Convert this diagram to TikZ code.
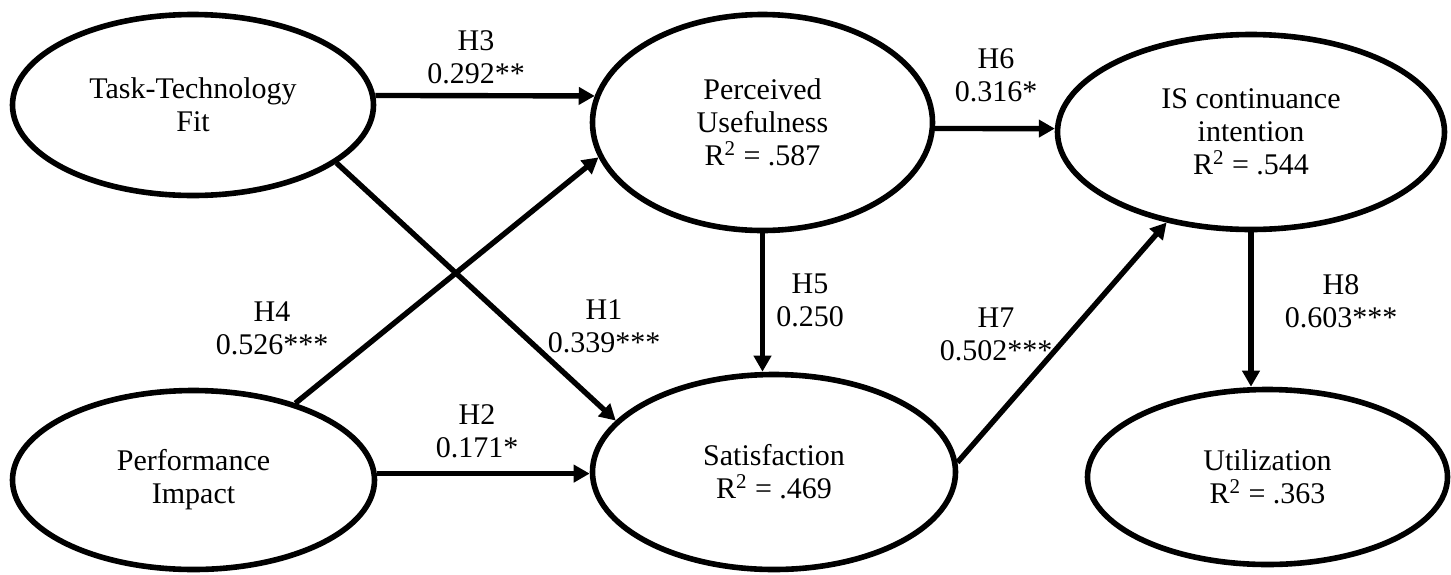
\documentclass[tikz,border=0pt]{standalone}
\usepackage{fontspec}
\setmainfont{Liberation Serif}
\usetikzlibrary{arrows.meta,shapes.geometric}
\begin{document}
\begin{tikzpicture}[x=0.5pt,y=-0.5pt,font=\fontsize{15}{16.5}\selectfont,
    construct/.style={draw, ellipse, line width=2.8pt, align=center, inner sep=0pt},
    link/.style={line width=2.7pt, -{Triangle[length=8pt,width=8.5pt]}},
    coef/.style={align=center, inner sep=0pt}]
  \useasboundingbox (0,0) rectangle (1451,574);
  \node[construct, minimum width=180.5pt, minimum height=90.5pt] (ttf) at (193,105) {Task-Technology\\Fit};
  \node[construct, minimum width=181pt, minimum height=89.5pt] (pi) at (193.5,480) {Performance\\Impact};
  \node[construct, minimum width=170pt, minimum height=108pt] (pu) at (762.5,122.5) {Perceived\\Usefulness\\R\textsuperscript{2} = .587};
  \node[construct, minimum width=181.5pt, minimum height=97.5pt] (sat) at (774,472) {Satisfaction\\R\textsuperscript{2} = .469};
  \node[construct, minimum width=193.5pt, minimum height=97.5pt] (is) at (1251,132) {IS continuance\\intention\\R\textsuperscript{2} = .544};
  \node[construct, minimum width=180pt, minimum height=87.5pt] (util) at (1267.5,477) {Utilization\\R\textsuperscript{2} = .363};
  \draw[link] (ttf.3) -- (pu.171);
  \draw[link] (ttf.-22) -- (sat.162);
  \draw[link] (pi.2) -- (pi.2 -| sat.west);
  \draw[link] (pi.37) -- (pu.192);
  \draw[link] (pu.south) -- (pu.south |- sat.north);
  \draw[link] (pu.-2) -- (is.179);
  \draw[link] (sat.3) -- (is.227);
  \draw[link] (is.south) -- (is.south |- util.north);
  \node[coef] (h3) at (476,57) {H3\\0.292**};
  \node[coef] (h1) at (604,326) {H1\\0.339***};
  \node[coef] (h2) at (477,431) {H2\\0.171*};
  \node[coef] (h4) at (272,328) {H4\\0.526***};
  \node[coef] (h5) at (810,300) {H5\\0.250};
  \node[coef] (h6) at (996,75) {H6\\0.316*};
  \node[coef] (h7) at (996,334) {H7\\0.502***};
  \node[coef] (h8) at (1341,301) {H8\\0.603***};
\end{tikzpicture}
\end{document}
